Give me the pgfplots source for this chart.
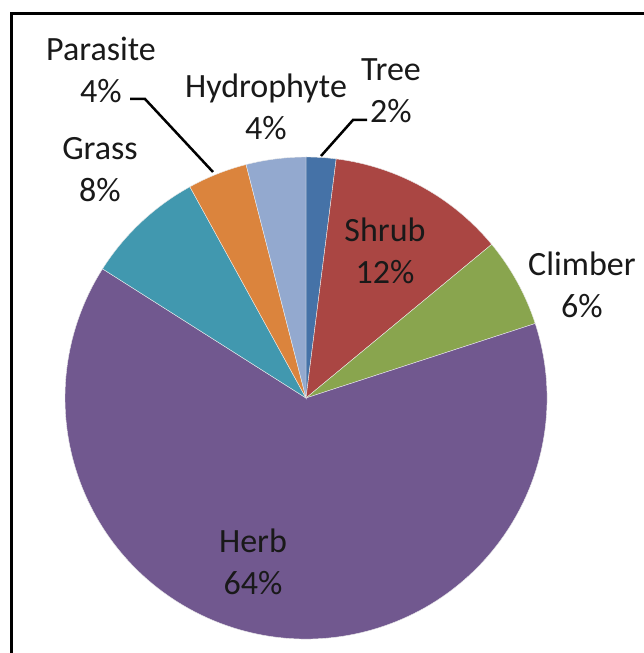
\documentclass[border=0pt]{standalone}
\usepackage{pgfplots}
\usepackage{pgfplotstable}
\pgfplotsset{compat=1.18}
\usepackage{fontspec}
\setmainfont{Carlito}

\definecolor{slice0}{HTML}{4572A7}
\definecolor{slice1}{HTML}{AA4643}
\definecolor{slice2}{HTML}{89A54E}
\definecolor{slice3}{HTML}{71588F}
\definecolor{slice4}{HTML}{4198AF}
\definecolor{slice5}{HTML}{DB843D}
\definecolor{slice6}{HTML}{93A9CF}

\pgfplotstableread{
name value
Tree 2
Shrub 12
Climber 6
Herb 64
Grass 8
Parasite 4
Hydrophyte 4
}\pietable

\begin{document}
\begin{tikzpicture}[x=1pt,y=1pt]
\useasboundingbox (0,0) rectangle (644,653);
\clip (0,0) rectangle (644,653);
\fill[white] (0,0) rectangle (644,653);
\draw[line width=3pt,black] (11.5,-10) -- (11.5,639) -- (660,639);
\begin{axis}[
  x=1pt, y=1pt,
  xmin=0, xmax=644, ymin=0, ymax=653,
  at={(0,0)}, anchor=origin,
  hide axis, clip=false,
]
\pgfplotstablegetrowsof{\pietable}
\pgfmathtruncatemacro\N{\pgfplotsretval-1}
\def\cum{0}
\pgfplotsforeachungrouped \i in {0,...,\N}{%
  \pgfplotstablegetelem{\i}{value}\of\pietable
  \let\v\pgfplotsretval
  \pgfmathsetmacro\a{90-3.6*\cum}%
  \pgfmathsetmacro\b{90-3.6*(\cum+\v)}%
  \edef\tmp{\noexpand\fill[slice\i, draw=white!85!gray, line width=0.4pt] (axis cs:306,255) -- ++(\a:241pt) arc[start angle=\a, end angle=\b, radius=241pt] -- cycle;}%
  \tmp
  \pgfmathsetmacro\cum{\cum+\v}%
}
\begin{scope}[every node/.style={align=center, font=\fontsize{34}{42}\selectfont, text=black!90, inner sep=0pt}]
\node at (axis cs:391,562) {Tree\\2\%};
\node at (axis cs:385,402) {Shrub\\12\%};
\node at (axis cs:582,368) {Climber\\6\%};
\node at (axis cs:253,91) {Herb\\64\%};
\node at (axis cs:100,483) {Grass\\8\%};
\node at (axis cs:101,583) {Parasite\\4\%};
\node at (axis cs:266,546) {Hydrophyte\\4\%};
\end{scope}
\draw[line width=2.5pt,black] (axis cs:130,554) -- (axis cs:145,554) -- (axis cs:213,481);
\draw[line width=2.5pt,black] (axis cs:367,533) -- (axis cs:353,533) -- (axis cs:321,497);
\end{axis}
\end{tikzpicture}
\end{document}
